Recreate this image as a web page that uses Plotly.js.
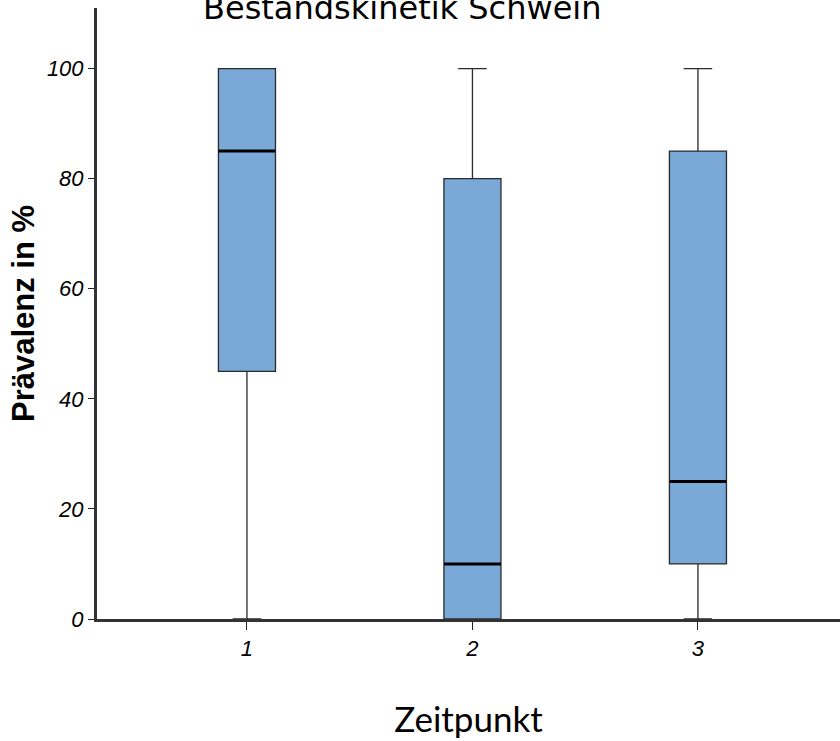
<!DOCTYPE html>
<html><head><meta charset="utf-8">
<script src="https://cdn.plot.ly/plotly-3.0.1.min.js"></script>
<style>html,body{margin:0;padding:0;background:#fff}</style>
</head><body><div id="chart" style="width:840px;height:741px"></div>
<script>
const categories = [1, 2, 3];
const tickLabels = ["1", "2", "3"];
const lowerFence = [0, 0, 0];
const q1 = [45, 0, 10];
const medians = [85, 10, 25];
const q3 = [100, 80, 85];
const upperFence = [100, 100, 100];

const boxTrace = {
  type: 'box', x: categories, q1: q1, median: medians, q3: q3,
  lowerfence: lowerFence, upperfence: upperFence,
  boxpoints: false, width: 0.253, whiskerwidth: 0.5,
  fillcolor: '#7aa8d7', line: {color: '#2a2a2a', width: 1.3},
  hoverinfo: 'skip', showlegend: false
};
const medianTrace = {
  type: 'scatter', mode: 'markers', x: categories, y: medians,
  marker: {symbol: 'line-ew', size: 40.5, color: '#000', line: {color: '#000', width: 3}},
  hoverinfo: 'skip', showlegend: false, cliponaxis: false
};

const layout = {
  width: 840, height: 741,
  margin: {l: 97, r: 0, t: 8, b: 122},
  paper_bgcolor: '#fff', plot_bgcolor: '#fff',
  showlegend: false,
  xaxis: {
    range: [0.335, 3.63], tickvals: categories, ticktext: tickLabels,
    showgrid: false, zeroline: false, showline: true, linecolor: '#333', linewidth: 3,
    ticks: 'outside', ticklen: 8, tickcolor: '#222', tickwidth: 1,
    tickfont: {family: 'Liberation Sans, Arial', size: 22, color: '#000', style: 'italic'},
    title: {text: 'Zeitpunkt', standoff: 48, font: {family: 'Lato, Open Sans', size: 35, color: '#000'}}
  },
  yaxis: {
    range: [0, 111], tickvals: [0, 20, 40, 60, 80, 100],
    showgrid: false, zeroline: false, showline: true, linecolor: '#333', linewidth: 3,
    ticks: 'outside', ticklen: 6, tickcolor: '#222', tickwidth: 1,
    tickfont: {family: 'Liberation Sans, Arial', size: 22, color: '#000', style: 'italic'},
    title: {text: '<b>Prävalenz in %</b>', standoff: 4, font: {family: 'Liberation Sans, Arial', size: 31, color: '#000'}}
  },
  annotations: [{
    text: 'Bestandskinetik Schwein', xref: 'paper', yref: 'paper',
    x: 0.41, y: 1.0, xanchor: 'center', yanchor: 'middle', showarrow: false,
    font: {family: 'DejaVu Sans', size: 32, color: '#000'}
  }]
};

Plotly.newPlot('chart', [boxTrace, medianTrace], layout, {displayModeBar: false, staticPlot: true});
</script></body></html>
